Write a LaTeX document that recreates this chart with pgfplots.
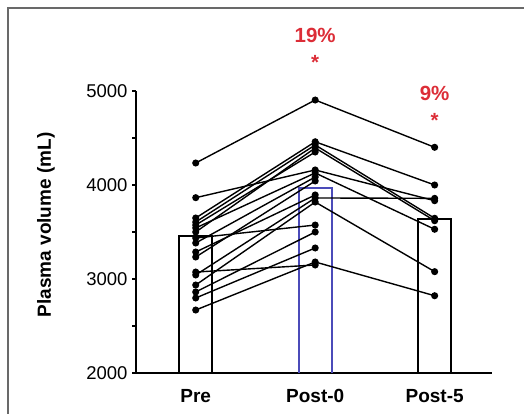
\documentclass[border=0pt]{standalone}
\usepackage{fontspec}
\setmainfont{Liberation Sans}
\usepackage{pgfplots}
\pgfplotsset{compat=1.18}
\definecolor{barblue}{RGB}{75,75,185}
\definecolor{annred}{RGB}{220,45,55}
\definecolor{framegray}{RGB}{105,105,105}
\begin{document}
\begin{tikzpicture}[x=1pt,y=1pt]
\useasboundingbox (0,0) rectangle (524,414);
\draw[framegray, line width=2pt] (8,0) -- (8,406) -- (524,406);
\begin{axis}[
  at={(136pt,41pt)}, anchor=south west,
  scale only axis, width=356pt, height=282pt,
  xmin=-0.5, xmax=2.48, ymin=2000, ymax=5000,
  axis x line*=bottom, axis y line*=left,
  axis line style={line width=1.4pt, black},
  clip=false,
  xtick={0,1,2}, xticklabels={Pre,Post-0,Post-5},
  xtick style={draw=none},
  xticklabel style={font=\fontsize{19}{22}\selectfont\bfseries, yshift=-9pt},
  ytick={2000,3000,4000,5000},
  minor ytick={2500,3500,4500},
  tick align=outside,
  major tick length=4pt, minor tick length=4pt,
  ytick style={line width=1.2pt, black},
  minor tick style={line width=1.2pt, black},
  yticklabel style={font=\fontsize{18.5}{22}\selectfont, xshift=-1pt},
  /pgf/number format/assume math mode=true,
  /pgf/number format/1000 sep={},
  every axis y label/.style={at={(axis description cs:-0.253,0.525)}, rotate=90, anchor=center, font=\fontsize{19}{22}\selectfont\bfseries},
  ylabel={Plasma volume (mL)},
  every axis plot/.append style={line width=1.4pt},
]
% bars
\addplot[black, line width=1.9pt, mark=none] coordinates {(-0.138,2000) (-0.138,3457) (0.138,3457) (0.138,2000)};
\addplot[barblue, line width=1.9pt, mark=none] coordinates {(0.862,2000) (0.862,3968) (1.138,3968) (1.138,2000)};
\addplot[black, line width=1.9pt, mark=none] coordinates {(1.862,2000) (1.862,3638) (2.138,3638) (2.138,2000)};
% subjects
\pgfplotsset{subj/.style={black, mark=*, mark size=2.8pt, mark options={solid, fill=black}}}
\addplot[subj] coordinates {(0,4234) (1,4904) (2,4401)};
\addplot[subj] coordinates {(0,3865) (1,4160) (2,3833)};
\addplot[subj] coordinates {(0,3649) (1,4460) (2,4000)};
\addplot[subj] coordinates {(0,3606) (1,4426) (2,3646)};
\addplot[subj] coordinates {(0,3574) (1,4351)};
\addplot[subj] coordinates {(0,3543) (1,4128) (2,3529)};
\addplot[subj] coordinates {(0,3500) (1,4394) (2,3620)};
\addplot[subj] coordinates {(0,3436) (1,3574)};
\addplot[subj] coordinates {(0,3383) (1,4085)};
\addplot[subj] coordinates {(0,3287) (1,3894)};
\addplot[subj] coordinates {(0,3234) (1,4043)};
\addplot[subj] coordinates {(0,3074) (1,3149)};
\addplot[subj] coordinates {(0,3043) (1,3862) (2,3858)};
\addplot[subj] coordinates {(0,2936) (1,3819) (2,3078)};
\addplot[subj] coordinates {(0,2862) (1,3500)};
\addplot[subj] coordinates {(0,2798) (1,3330)};
\addplot[subj] coordinates {(0,2670) (1,3181) (2,2822)};
% annotations
\node[annred, font=\fontsize{20.5}{24}\selectfont\bfseries] at (axis cs:1,5596) {19\%};
\node[annred, font=\fontsize{20.5}{24}\selectfont\bfseries] at (axis cs:1,5300) {*};
\node[annred, font=\fontsize{20.5}{24}\selectfont\bfseries] at (axis cs:2,4979) {9\%};
\node[annred, font=\fontsize{20.5}{24}\selectfont\bfseries] at (axis cs:2,4683) {*};
\end{axis}
\end{tikzpicture}
\end{document}
